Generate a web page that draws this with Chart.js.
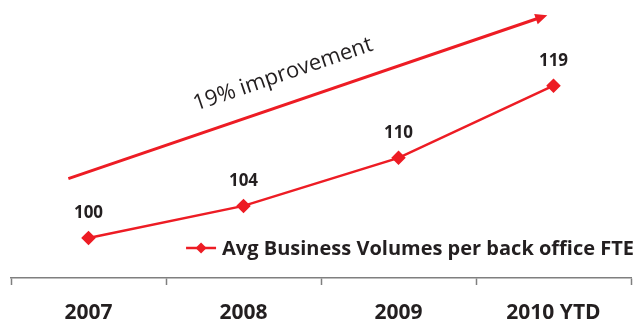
<!DOCTYPE html>
<html>
<head>
<meta charset="utf-8">
<script src="https://cdn.jsdelivr.net/npm/chart.js@4.4.1/dist/chart.umd.min.js"></script>
<style>
  html, body { margin: 0; padding: 0; background: #fff; }
  #wrap { width: 639px; height: 323px; }
</style>
</head>
<body>
<div id="wrap"><canvas id="canva1"></canvas></div>
<script>
// données du graphique
const annees = ['2007', '2008', '2009', '2010 YTD'];
const volumes = [100, 104, 110, 119];
const nomSerie = 'Avg Business Volumes per back office FTE';

// flèche "19% improvement" : [index catégorie, valeur]
const flecheDebut = [-0.13, 107.4];
const flecheFin = [2.96, 127.8];
const texteFleche = '19% improvement';

const rouge = '#ed1c24';
const texteCouleur = '#231f20';
const police = '"Open Sans"';

// étiquettes de valeur au-dessus des points
const etiquettes = {
    id: 'etiquettes',
    afterDatasetsDraw(chart) {
        const ctx = chart.ctx;
        const meta = chart.getDatasetMeta(0);
        ctx.save();
        ctx.font = 'bold 17px ' + police;
        ctx.fillStyle = texteCouleur;
        ctx.textAlign = 'center';
        ctx.textBaseline = 'middle';
        meta.data.forEach((pt, i) => {
            ctx.fillText(String(volumes[i]), pt.x, pt.y - 25);
        });
        ctx.restore();
    }
};

// flèche avec son texte incliné
const fleche = {
    id: 'fleche',
    afterDatasetsDraw(chart) {
        const ctx = chart.ctx;
        const x = chart.scales.x, y = chart.scales.y;
        const x1 = x.getPixelForValue(flecheDebut[0]), y1 = y.getPixelForValue(flecheDebut[1]);
        const x2 = x.getPixelForValue(flecheFin[0]), y2 = y.getPixelForValue(flecheFin[1]);
        const angle = Math.atan2(y2 - y1, x2 - x1);
        ctx.save();
        ctx.strokeStyle = rouge;
        ctx.fillStyle = rouge;
        ctx.lineWidth = 3;
        ctx.beginPath();
        ctx.moveTo(x1, y1);
        ctx.lineTo(x2 - 8 * Math.cos(angle), y2 - 8 * Math.sin(angle));
        ctx.stroke();
        // pointe
        ctx.translate(x2, y2);
        ctx.rotate(angle);
        ctx.beginPath();
        ctx.moveTo(0, 0);
        ctx.lineTo(-12, -5.5);
        ctx.lineTo(-12, 5.5);
        ctx.closePath();
        ctx.fill();
        ctx.restore();

        // texte le long de la flèche
        const t = 0.468;
        const mx = x1 + (x2 - x1) * t, my = y1 + (y2 - y1) * t;
        ctx.save();
        ctx.translate(mx, my);
        ctx.rotate(angle);
        ctx.font = '22px ' + police;
        ctx.fillStyle = texteCouleur;
        ctx.textAlign = 'center';
        ctx.textBaseline = 'alphabetic';
        ctx.fillText(texteFleche, 0, -23);
        ctx.restore();
    }
};

// légende dessinée dans la zone du graphique, en bas à droite
const legende = {
    id: 'legende',
    afterDraw(chart) {
        const ctx = chart.ctx;
        const ds = chart.data.datasets[0];
        const area = chart.chartArea;
        ctx.save();
        ctx.font = 'bold 20px ' + police;
        const largeur = ctx.measureText(ds.label).width;
        const xt = area.right + 3 - largeur;
        const yl = area.bottom - 30;
        ctx.strokeStyle = ds.borderColor;
        ctx.lineWidth = 2.5;
        ctx.beginPath();
        ctx.moveTo(xt - 36, yl);
        ctx.lineTo(xt - 6, yl);
        ctx.stroke();
        ctx.fillStyle = ds.borderColor;
        ctx.beginPath();
        ctx.moveTo(xt - 21, yl - 5.5);
        ctx.lineTo(xt - 15.5, yl);
        ctx.lineTo(xt - 21, yl + 5.5);
        ctx.lineTo(xt - 26.5, yl);
        ctx.closePath();
        ctx.fill();
        ctx.fillStyle = texteCouleur;
        ctx.textBaseline = 'middle';
        ctx.fillText(ds.label, xt, yl + 1);
        ctx.restore();
    }
};

const ctx = document.querySelector('#canva1');

new Chart(ctx, {
    type: 'line',
    data: {
        labels: annees,
        datasets: [{
            label: nomSerie,
            data: volumes,
            borderColor: rouge,
            backgroundColor: rouge,
            borderWidth: 2.5,
            pointStyle: 'rectRot',
            pointRadius: 5.5,
            pointHoverRadius: 5.5,
            tension: 0
        }]
    },
    options: {
        responsive: true,
        maintainAspectRatio: false,
        animation: false,
        layout: { padding: { left: 11, right: 3, top: 0, bottom: -19 } },
        scales: {
            x: {
                offset: true,
                grid: {
                    offset: true,
                    drawOnChartArea: false,
                    drawTicks: true,
                    tickLength: 7,
                    tickColor: '#7f7f7f',
                    tickWidth: 1.5
                },
                border: { display: true, color: '#7f7f7f', width: 1.5 },
                ticks: {
                    color: texteCouleur,
                    padding: 18,
                    font: { family: police, size: 21, weight: 'bold', lineHeight: 1 }
                }
            },
            y: {
                display: false,
                min: 95,
                max: 128.7
            }
        },
        plugins: {
            legend: { display: false },
            tooltip: { enabled: false }
        }
    },
    plugins: [etiquettes, fleche, legende]
});
</script>
</body>
</html>
